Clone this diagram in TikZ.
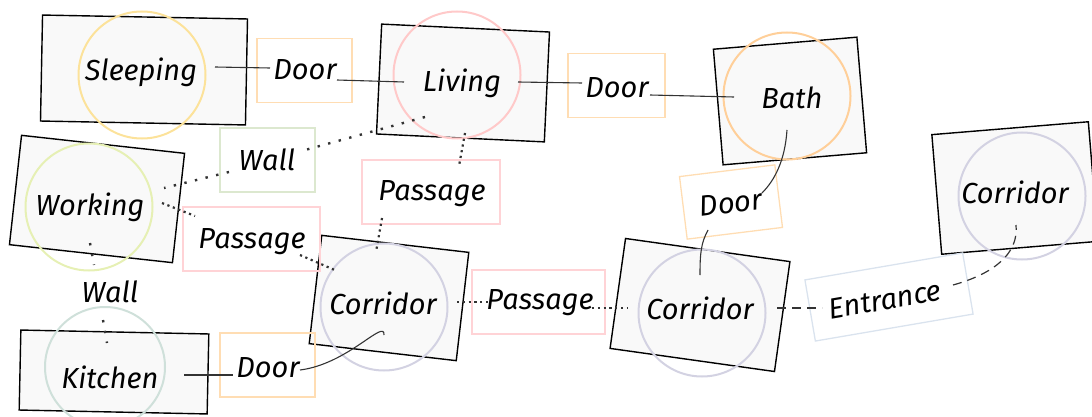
\documentclass[tikz,border=0pt]{standalone}
\usepackage{fontspec}
\setmainfont{Fira Sans}
\usetikzlibrary{calc}
\definecolor{roomfill}{HTML}{F9F9F9}
\definecolor{cSleep}{HTML}{FCE29A}
\definecolor{cLiving}{HTML}{FFC9C9}
\definecolor{cBath}{HTML}{FFCF99}
\definecolor{cWork}{HTML}{E6F0B4}
\definecolor{cKitchen}{HTML}{CFE0DA}
\definecolor{cCorr}{HTML}{D3D2E2}
\definecolor{bDoor}{HTML}{FFDDB3}
\definecolor{bWall}{HTML}{DCE8CF}
\definecolor{bPass}{HTML}{FFD3D6}
\definecolor{bEntr}{HTML}{DAE3EE}
\definecolor{ink}{HTML}{333333}
\tikzset{
  room/.style={draw=black, fill=roomfill, line width=1.4pt, inner sep=0pt},
  zone/.style={circle, draw=#1, line width=2pt, inner sep=0pt, minimum size=127pt},
  tagbox/.style={draw=#1, line width=1.3pt, inner sep=0pt, minimum height=64pt},
  lbl/.style={inner sep=0pt, font=\itshape\fontsize{29}{34}\selectfont},
  solidlink/.style={draw=ink, line width=1.1pt},
  passlink/.style={draw=ink, line width=2.2pt, dash pattern=on 2.2pt off 3.6pt},
  walllink/.style={draw=ink, line width=2.4pt, dash pattern=on 2.4pt off 8.5pt},
  entrlink/.style={draw=ink, line width=1.2pt, dash pattern=on 9pt off 6pt},
}
\begin{document}
\begin{tikzpicture}[x=1pt,y=-1pt]
\useasboundingbox (0,0) rectangle (1092,417);
% rooms
\node[room, minimum width=205pt, minimum height=106pt, rotate=-1.1] (sleepR) at (144,70) {};
\node[room, minimum width=168pt, minimum height=110pt, rotate=-2.7] (livR) at (463,83) {};
\node[room, minimum width=144pt, minimum height=116pt, rotate=4.8] (bathR) at (790,101) {};
\node[room, minimum width=164pt, minimum height=110pt, rotate=-6.3] (workR) at (97,199) {};
\node[room, minimum width=188pt, minimum height=80pt, rotate=-1.2] (kitR) at (114,372) {};
\node[room, minimum width=148pt, minimum height=109pt, rotate=-6.6] (cor1R) at (389,298) {};
\node[room, minimum width=166pt, minimum height=111pt, rotate=-8] (cor2R) at (700,305) {};
\node[room, minimum width=157pt, minimum height=120pt, rotate=4.7] (cor3R) at (1015,188) {};
% zones
\node[zone=cSleep] (sleepC) at (142,75) {};
\node[zone=cLiving] (livC) at (457,75) {};
\node[zone=cBath] (bathC) at (787,96) {};
\node[zone=cWork] (workC) at (89,207) {};
\node[zone=cKitchen, minimum size=120pt] (kitC) at (105,367) {};
\node[zone=cCorr] (cor1C) at (384,307) {};
\node[zone=cCorr] (cor2C) at (702,313) {};
\node[zone=cCorr] (cor3C) at (1022,196) {};
% tag boxes
\node[tagbox=bDoor, minimum width=95pt] (door1B) at (304.5,70.5) {};
\node[tagbox=bDoor, minimum width=97pt] (door2B) at (616.5,85.5) {};
\node[tagbox=bDoor, minimum width=96pt, minimum height=63pt, rotate=7] (door3B) at (731,202) {};
\node[tagbox=bDoor, minimum width=95pt] (door4B) at (267.5,365) {};
\node[tagbox=bWall, minimum width=95pt] (wall1B) at (267.5,160) {};
\node[tagbox=bPass, minimum width=138pt] (pass1B) at (431,192) {};
\node[tagbox=bPass, minimum width=137pt] (pass2B) at (251.5,239) {};
\node[tagbox=bPass, minimum width=133pt] (pass3B) at (538.5,302) {};
\node[tagbox=bEntr, minimum width=160pt, minimum height=62pt, rotate=9.7] (entrB) at (889,297) {};
% labels
\node[lbl] (sleep) at (141,72) {Sleeping};
\node[lbl] (door1) at (305,70) {Door};
\node[lbl] (liv) at (462,83) {Living};
\node[lbl] (door2) at (617,88) {Door};
\node[lbl] (bath) at (792,98) {Bath};
\node[lbl, rotate=7] (door3) at (731,203) {Door};
\node[lbl] (work) at (90,207) {Working};
\node[lbl] (wall1) at (267,160) {Wall};
\node[lbl] (pass1) at (432,194) {Passage};
\node[lbl] (pass2) at (252,242) {Passage};
\node[lbl] (wall2) at (110,292) {Wall};
\node[lbl] (kit) at (110,377) {Kitchen};
\node[lbl] (door4) at (268,368) {Door};
\node[lbl] (cor1) at (383,303) {Corridor};
\node[lbl] (pass3) at (540,303) {Passage};
\node[lbl] (cor2) at (700,308) {Corridor};
\node[lbl, rotate=9.7] (entr) at (885,300) {Entrance};
\node[lbl] (cor3) at (1015,192) {Corridor};
% connectors
\draw[solidlink] ([shift={(74,-5)}]sleep.center) -- ([shift={(-35,-2)}]door1.center);
\draw[solidlink] ([shift={(32,10)}]door1.center) -- ([shift={(-58,-1)}]liv.center);
\draw[solidlink] ([shift={(56,-1)}]liv.center) -- ([shift={(-35,-5)}]door2.center);
\draw[solidlink] ([shift={(33,7)}]door2.center) -- ([shift={(-58,-1)}]bath.center);
\draw[solidlink] ([shift={(-5,32)}]bath.center) .. controls ([shift={(-7,62)}]bath.center) and ([shift={(-17,82)}]bath.center) .. ([shift={(31,-10)}]door3.center);
\draw[solidlink] ([shift={(-23,27)}]door3.center) .. controls ([shift={(-30,40)}]door3.center) and ([shift={(0,-55)}]cor2.center) .. ([shift={(0,-33)}]cor2.center);
\draw[entrlink] ([shift={(77,0)}]cor2.center) -- ([shift={(-63,8)}]entr.center);
\draw[entrlink] ([shift={(68,-15)}]entr.center) .. controls ([shift={(-22,82)}]cor3.center) and ([shift={(4,62)}]cor3.center) .. ([shift={(1,33)}]cor3.center);
\draw[passlink] ([shift={(74,-1)}]cor1.center) -- ([shift={(-50,-1)}]pass3.center);
\draw[passlink] ([shift={(52,5)}]pass3.center) -- ([shift={(-73,0)}]cor2.center);
\draw[passlink] ([shift={(3,50)}]liv.center) -- ([shift={(27,-28)}]pass1.center);
\draw[passlink] ([shift={(-50,24)}]pass1.center) -- ([shift={(-7,-51)}]cor1.center);
\draw[passlink] ([shift={(72,-4)}]work.center) -- ([shift={(-57,-26)}]pass2.center);
\draw[passlink] ([shift={(48,13)}]pass2.center) -- ([shift={(-46,-32)}]cor1.center);
\draw[walllink] ([shift={(-37,34)}]liv.center) -- ([shift={(38,-10)}]wall1.center);
\draw[walllink] ([shift={(-38,12)}]wall1.center) -- ([shift={(74,-19)}]work.center);
\draw[walllink] ([shift={(0,36)}]work.center) -- ([shift={(-16,-27)}]wall2.center);
\draw[walllink] ([shift={(-7,28)}]wall2.center) -- ([shift={(-3,-34)}]kit.center);
\draw[solidlink] ([shift={(74,-2)}]kit.center) -- ([shift={(-35,7)}]door4.center);
\draw[solidlink] ([shift={(32,2)}]door4.center) .. controls ([shift={(80,-4)}]door4.center) and ([shift={(2,15)}]cor1.center) .. ([shift={(1,32)}]cor1.center);
\end{tikzpicture}
\end{document}
